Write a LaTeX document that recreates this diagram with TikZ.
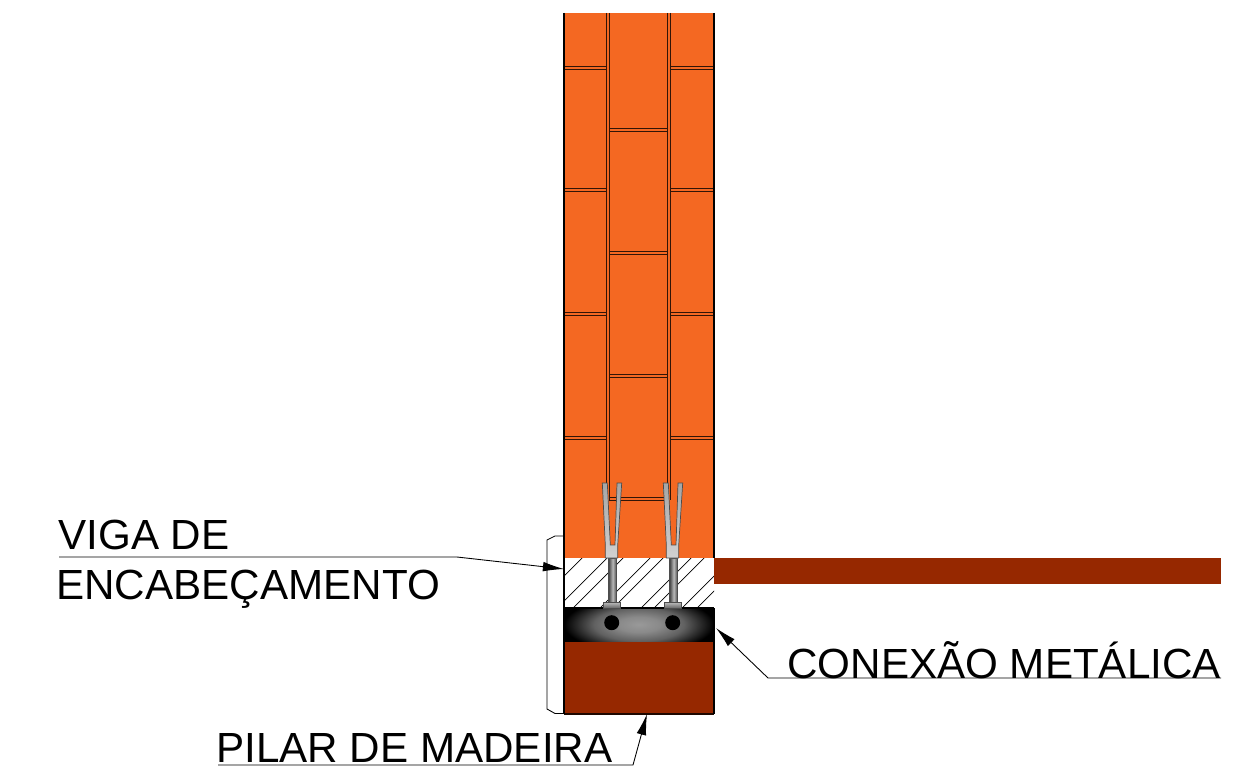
\documentclass[tikz,border=0pt]{standalone}
\usepackage{fontspec}
\setmainfont{Liberation Sans}
\usetikzlibrary{arrows.meta}
\definecolor{brick}{RGB}{244, 104, 34}
\definecolor{wood}{RGB}{150, 40, 0}
\pgfdeclareradialshading{metalshade}{\pgfpoint{0bp}{0bp}}{
  color(0bp)=(black!40); color(7bp)=(black!46); color(15bp)=(black!62); color(21bp)=(black!85); color(25bp)=(black); color(50bp)=(black)
}
\pgfdeclarehorizontalshading{stemshade}{100bp}{
  color(0bp)=(black!72); color(25bp)=(black!72); color(50bp)=(black!28); color(75bp)=(black!72); color(100bp)=(black!72)
}
\tikzset{
  brickline/.style={draw=black!80!brick, line width=0.55pt},
  wall/.style={line width=1.3pt, draw=black},
  hatch/.style={line width=0.4pt, draw=black},
  label/.style={anchor=base west, inner sep=0, font=\fontsize{24}{24}\selectfont},
  leader/.style={line width=0.5pt, draw=black},
  arrow/.style={leader, -{Latex[length=12pt, width=5.5pt]}},
  metalpart/.style={draw=black!70, line width=0.4pt},
  forkpart/.style={metalpart, top color=black!35, bottom color=black!18}
}

\begin{document}
\begin{tikzpicture}[x=0.02cm, y=-0.02cm]
  \useasboundingbox (0,0) rectangle (1239,776);
  % masonry
  \fill[brick] (564,13) rectangle (714,558);
  \foreach \bot in {66, 188, 312, 436} {
    \draw[brickline] (564,\bot) -- (606,\bot);
    \draw[brickline] (670,\bot) -- (714,\bot);
  }
  \foreach \top in {69, 191, 315, 439} {
    \draw[brickline] (564,\top) -- (606,\top);
    \draw[brickline] (670,\top) -- (714,\top);
  }
  \foreach \x in {606, 609, 667, 670}
    \draw[brickline] (\x,13) -- (\x,500);
  \foreach \top in {128, 251, 374, 497}
    \draw[brickline] (609,\top) -- (667,\top);
  \foreach \top in {131, 254, 377, 500}
    \draw[brickline] (609,\top) -- (667,\top);
  % bond beam
  \begin{scope}
    \clip (564,558) rectangle (714,608);
    \foreach \c in {1140, 1165, 1181, 1208, 1221, 1249, 1262, 1290, 1305}
      \draw[hatch] (\c-558,558) -- (\c-608,608);
  \end{scope}
  % floor slab and post
  \fill[wood] (714,558) rectangle (1221,584);
  \fill[wood] (564,641) rectangle (714,714);
  \draw[line width=0.7pt, draw=black!80!wood] (564,714) -- (714,714);
  % connector plate
  \begin{scope}
    \clip (564,608) rectangle (714,641);
    \shade[shading=metalshade] (564,597) rectangle (714,652);
  \end{scope}
  \draw[line width=0.8pt] (564,608) -- (714,608);
  \foreach \x in {0, 61} {
    \begin{scope}[xshift=\x*0.02cm]
      \shade[shading=stemshade, metalpart] (608.7,558) rectangle (616.7,603);
      \path[forkpart] (602.3,483) -- (607.3,483) -- (610.3,545) -- (615,545) -- (617,483) -- (621.7,483)
        -- (617.7,545) -- (617.7,558) -- (605.3,558) -- (605.3,545) -- cycle;
      \shade[metalpart, top color=black!25, bottom color=black!60] (603.3,602) rectangle (620.7,608);
      \fill (611.7,622.7) circle (7.5);
    \end{scope}
  }
  % outlines
  \draw[wall] (564,13) -- (564,714);
  \draw[wall] (714,13) -- (714,558);
  \draw[wall] (714,608) -- (714,714);
  \draw[line width=0.5pt] (564,536) -- (555,536) -- (547,540) -- (547,709) -- (555,713.5) -- (564,713.5);
  % labels
  \node[label] (vigaA) at (58,549) {VIGA DE};
  \node[label] (vigaB) at (56,599) {ENCABEÇAMENTO};
  \node[label] (conexao) at (787,678) {CONEXÃO METÁLICA};
  \node[label] (pilar) at (216,762) {PILAR DE MADEIRA};
  \coordinate (vigaStart) at (59,557);
  \coordinate (vigaBend) at (457,557);
  \coordinate (vigaTip) at (564,569);
  \coordinate (conexaoStart) at (1221,678);
  \coordinate (conexaoBend) at (768,678);
  \coordinate (conexaoTip) at (716,628);
  \coordinate (pilarStart) at (218,765);
  \coordinate (pilarBend) at (633,765);
  \coordinate (pilarTip) at (647,714);
  \draw[arrow] (vigaStart) -- (vigaBend) -- (vigaTip);
  \draw[arrow] (conexaoStart) -- (conexaoBend) -- (conexaoTip);
  \draw[arrow] (pilarStart) -- (pilarBend) -- (pilarTip);
\end{tikzpicture}
\end{document}
